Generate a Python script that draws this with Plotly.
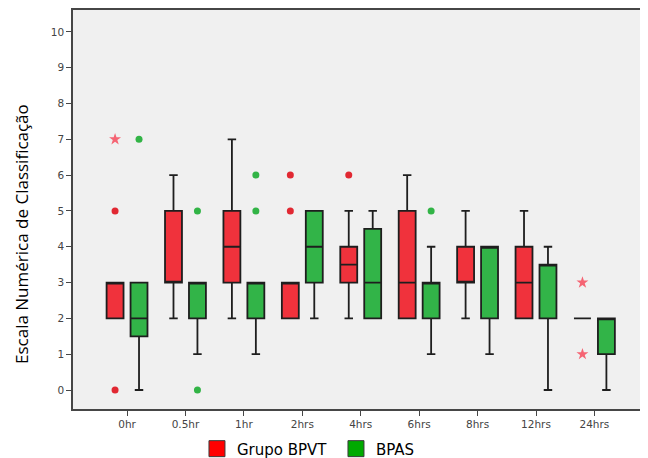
import plotly.graph_objects as go

labels = ["0hr", "0.5hr", "1hr", "2hrs", "4hrs", "6hrs", "8hrs", "12hrs", "24hrs"]

bpvt_q1 = [2, 3, 3, 2, 3, 2, 3, 2, 2]
bpvt_med = [3, 3, 4, 3, 3.5, 3, 3, 3, 2]
bpvt_q3 = [3, 5, 5, 3, 4, 5, 4, 4, 2]
bpvt_lo = [2, 2, 2, 2, 2, 2, 2, 2, 2]
bpvt_hi = [3, 6, 7, 3, 5, 6, 5, 5, 2]

bpas_q1 = [1.5, 2, 2, 3, 2, 2, 2, 2, 1]
bpas_med = [2, 3, 3, 4, 3, 3, 4, 3.5, 2]
bpas_q3 = [3, 3, 3, 5, 4.5, 3, 4, 3.5, 2]
bpas_lo = [0, 1, 1, 2, 2, 1, 1, 0, 0]
bpas_hi = [3, 3, 3, 5, 5, 4, 4, 4, 2]

# outliers (category index, value)
bpvt_out_idx = [0, 0, 3, 3, 4]
bpvt_out_val = [5, 0, 6, 5, 6]
bpvt_ext_idx = [0, 8, 8]
bpvt_ext_val = [7, 3, 1]
bpas_out_idx = [0, 1, 1, 2, 2, 5]
bpas_out_val = [7, 5, 0, 6, 5, 5]

y_title = "Escala Numérica de Classificação"

RED = "rgb(240,50,60)"
GREEN = "rgb(50,180,72)"
OFF = 0.205
W = 0.29

pos = list(range(len(labels)))
x_red = [p - OFF for p in pos]
x_green = [p + OFF for p in pos]

fig = go.Figure()

fig.add_trace(go.Box(
    x=x_red, q1=bpvt_q1, median=bpvt_med, q3=bpvt_q3,
    lowerfence=bpvt_lo, upperfence=bpvt_hi, width=W,
    fillcolor=RED, line=dict(color="rgb(30,30,30)", width=1.8),
    whiskerwidth=0.5, showlegend=False, hoverinfo="skip",
))
fig.add_trace(go.Box(
    x=x_green, q1=bpas_q1, median=bpas_med, q3=bpas_q3,
    lowerfence=bpas_lo, upperfence=bpas_hi, width=W,
    fillcolor=GREEN, line=dict(color="rgb(30,30,30)", width=1.8),
    whiskerwidth=0.5, showlegend=False, hoverinfo="skip",
))

fig.add_trace(go.Scatter(
    x=[i - OFF for i in bpvt_out_idx], y=bpvt_out_val, mode="markers",
    marker=dict(symbol="circle", size=7, color="rgb(225,40,50)"),
    showlegend=False, hoverinfo="skip",
))
fig.add_trace(go.Scatter(
    x=[i - OFF for i in bpvt_ext_idx], y=bpvt_ext_val, mode="markers",
    marker=dict(symbol="star", size=9, color="rgb(245,100,115)"),
    showlegend=False, hoverinfo="skip",
))
fig.add_trace(go.Scatter(
    x=[i + OFF for i in bpas_out_idx], y=bpas_out_val, mode="markers",
    marker=dict(symbol="circle", size=7, color="rgb(50,180,70)"),
    showlegend=False, hoverinfo="skip",
))

# legend entries
fig.add_trace(go.Scatter(
    x=[None], y=[None], mode="markers", name="Grupo BPVT",
    marker=dict(symbol="square", size=16, color="rgb(255,0,0)",
                line=dict(color="rgb(60,60,60)", width=1)),
))
fig.add_trace(go.Scatter(
    x=[None], y=[None], mode="markers", name="BPAS",
    marker=dict(symbol="square", size=16, color="rgb(0,170,0)",
                line=dict(color="rgb(60,60,60)", width=1)),
))

fig.update_layout(
    width=640, height=450,
    margin=dict(l=65, r=1, t=2, b=49, autoexpand=False),
    paper_bgcolor="white",
    plot_bgcolor="rgb(240,240,240)",
    boxmode="overlay",
    showlegend=True,
    legend=dict(orientation="h", x=0.216, xanchor="left", y=-0.1, yanchor="middle",
                font=dict(family="DejaVu Sans", size=15, color="black"),
                bgcolor="rgba(0,0,0,0)", itemwidth=30, entrywidth=94,
                entrywidthmode="pixels"),
    font=dict(family="DejaVu Sans", color="#333"),
    annotations=[dict(
        text=y_title, xref="paper", yref="paper", x=-0.0889, y=0.4386,
        xanchor="center", yanchor="middle", textangle=-90, showarrow=False,
        font=dict(family="Open Sans", size=17, color="black"),
    )],
)

fig.update_xaxes(
    range=[-0.925, 8.9], tickmode="array", tickvals=pos, ticktext=labels,
    showgrid=False, zeroline=False, showline=True, mirror=True,
    linecolor="rgb(70,70,70)", linewidth=1.5, automargin=False,
    ticks="outside", ticklen=5, tickcolor="rgb(70,70,70)",
    tickfont=dict(family="DejaVu Sans", size=10.5, color="#444"),
)
fig.update_yaxes(
    range=[-0.53, 10.61], tickmode="array", tickvals=list(range(11)),
    showgrid=False, zeroline=False, showline=True, mirror=True,
    linecolor="rgb(70,70,70)", linewidth=1.5, automargin=False,
    ticks="outside", ticklen=5, tickcolor="rgb(70,70,70)",
    tickfont=dict(family="DejaVu Sans", size=10.5, color="#444"),
)

fig.write_html("out.html")
